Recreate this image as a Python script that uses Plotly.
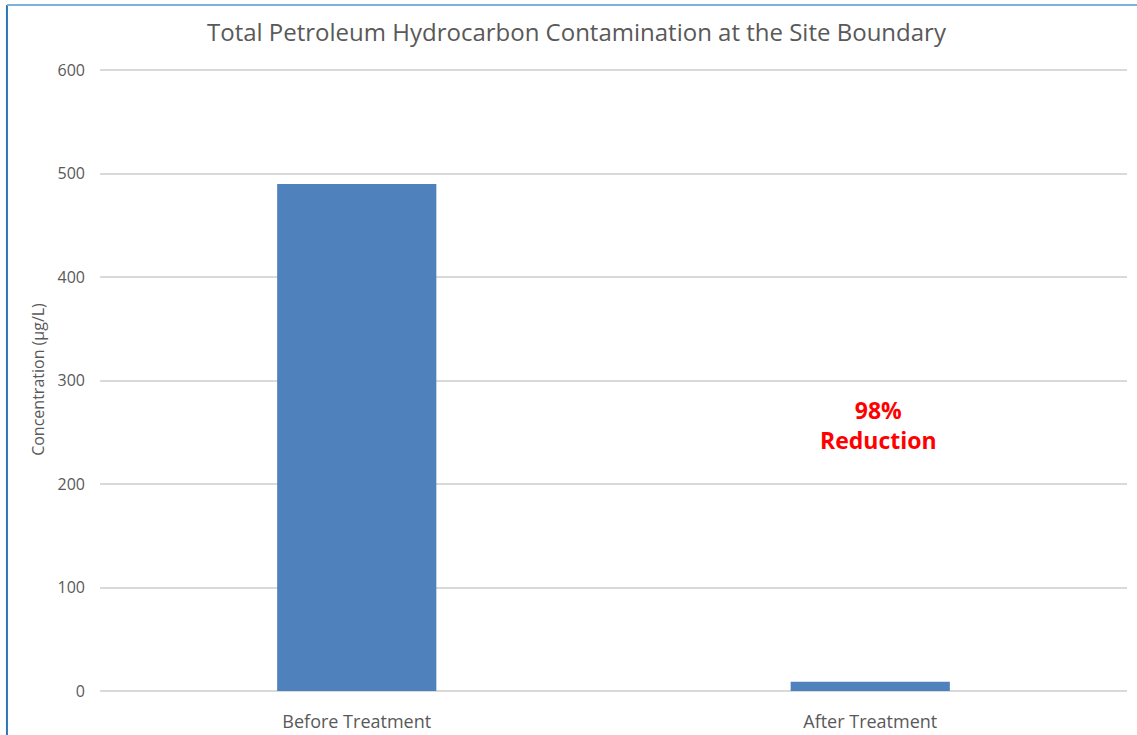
import plotly.graph_objects as go

categories = ["Before Treatment", "After Treatment"]
values = [490, 9]
y_ticks = [0, 100, 200, 300, 400, 500, 600]
title_text = "Total Petroleum Hydrocarbon Contamination at the Site Boundary"
y_title = "Concentration (µg/L)"
note_text = "<b>98%<br>Reduction</b>"

fig = go.Figure()
fig.add_trace(go.Bar(x=categories, y=values, marker=dict(color="#4f81bd", line=dict(width=0)),
                     hoverinfo="x+y"))

font_family = "Open Sans, Lato, sans-serif"
fig.update_layout(
    width=1137, height=735,
    margin=dict(l=100, r=10, t=68, b=44),
    paper_bgcolor="white", plot_bgcolor="white",
    bargap=0.69,
    showlegend=False,
    title=dict(text=title_text, x=0.507, xanchor="center", y=0.955, yanchor="middle",
               font=dict(family=font_family, size=24, color="#595959")),
    font=dict(family=font_family, color="#595959"),
)
fig.update_yaxes(range=[0, 602], tickvals=y_ticks, showgrid=True, gridcolor="#d9d9d9", gridwidth=1.5,
                 zeroline=True, zerolinecolor="#d9d9d9", zerolinewidth=1.5, automargin=False,
                 showline=False, ticks="", ticklabelstandoff=14,
                 tickfont=dict(size=16, color="#595959"),
                 title=dict(text=y_title, font=dict(size=16, color="#595959"), standoff=8))
fig.update_xaxes(showgrid=False, showline=False, ticks="", ticklabelstandoff=18, automargin=False,
                 tickfont=dict(size=18, color="#595959"))

fig.add_annotation(x=categories[1], y=257, text=note_text, showarrow=False, xshift=8,
                   font=dict(family=font_family, size=23, color="#ff0000"), align="center")

# frame lines (left and top) of the reference image
plot_h = 735 - 68 - 44
top_y = (691 - 5) / plot_h
fig.add_shape(type="line", xref="paper", yref="paper", x0=-0.0906, x1=-0.0906, y0=-0.2, y1=top_y,
              line=dict(color="#2e75b6", width=2))
fig.add_shape(type="line", xref="paper", yref="paper", x0=-0.0906, x1=1.02, y0=top_y, y1=top_y,
              line=dict(color="#7fb0d8", width=2))

fig.write_html("out.html", config={"displayModeBar": False},
               post_script="document.body.style.margin='0';")
